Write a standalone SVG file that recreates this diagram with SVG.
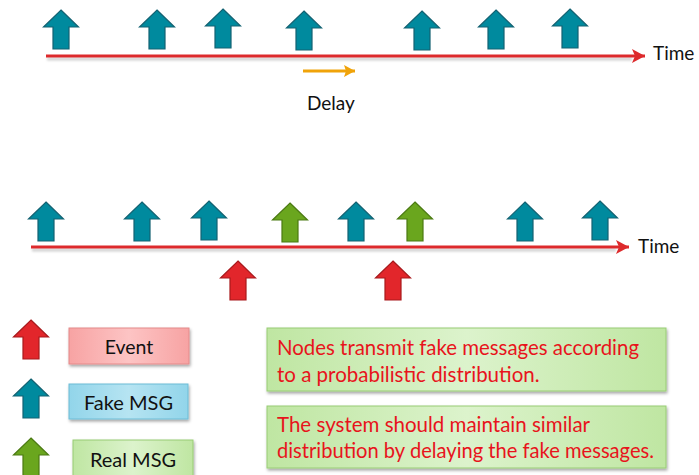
<svg xmlns="http://www.w3.org/2000/svg" xmlns:xlink="http://www.w3.org/1999/xlink" width="699" height="475" viewBox="0 0 699 475">
<defs>
<style>
.t{font-family:Lato,"Open Sans","Liberation Sans",sans-serif;fill:#111}
.rt{font-family:Lato,"Open Sans","Liberation Sans",sans-serif;fill:#e8141c;font-size:20.5px}
.teal{fill:#008a9e;stroke:#136272;stroke-width:1.2}
.red{fill:#e2262b;stroke:#a8191c;stroke-width:1.2}
.green{fill:#6aa61e;stroke:#4b7a12;stroke-width:1.2}
.axis{stroke:#dd2a2c;stroke-width:3;fill:none}
.axsh{stroke:#000;stroke-opacity:0.18;stroke-width:3;fill:none}
</style>
<path id="arr" d="M0,0 L17.5,17 L8,17 L8,39 L-8,39 L-8,17 L-17.5,17 Z"/>
<marker id="ah" markerWidth="14" markerHeight="14" refX="13" refY="7" orient="auto" markerUnits="userSpaceOnUse">
<path d="M0,0 L13,7 L0,14 L3,7 Z" fill="#dd2a2c"/>
</marker>
<marker id="oh" markerWidth="12" markerHeight="12" refX="11" refY="6" orient="auto" markerUnits="userSpaceOnUse">
<path d="M0,0 L11,6 L0,12 L2,6 Z" fill="#f0a30a"/>
</marker>
<filter id="sh" x="-10%" y="-20%" width="125%" height="160%">
<feDropShadow dx="1" dy="2" stdDeviation="1.5" flood-color="#000" flood-opacity="0.35"/>
</filter>
<filter id="blur" filterUnits="userSpaceOnUse" x="0" y="0" width="699" height="475">
<feGaussianBlur stdDeviation="1"/>
</filter>
<linearGradient id="gPink" x1="0" y1="0" x2="1" y2="0">
<stop offset="0" stop-color="#f7a3a3"/><stop offset="0.5" stop-color="#fdc4c4"/><stop offset="1" stop-color="#f7a3a3"/>
</linearGradient>
<linearGradient id="gBlue" x1="0" y1="0" x2="1" y2="0">
<stop offset="0" stop-color="#92d5ea"/><stop offset="0.5" stop-color="#b6e4f2"/><stop offset="1" stop-color="#92d5ea"/>
</linearGradient>
<linearGradient id="gGreen" x1="0" y1="0" x2="1" y2="0">
<stop offset="0" stop-color="#bfe6a2"/><stop offset="0.5" stop-color="#dcf3cc"/><stop offset="1" stop-color="#bfe6a2"/>
</linearGradient>
</defs>

<g id="connectors">
<line class="axsh" x1="47" y1="59" x2="632" y2="59" filter="url(#blur)"/>
<line class="axis" x1="46" y1="56" x2="645" y2="56" marker-end="url(#ah)"/>
<line x1="303" y1="71" x2="355" y2="71" stroke="#f0a30a" stroke-width="3" marker-end="url(#oh)"/>
<line class="axsh" x1="32" y1="250" x2="616" y2="250" filter="url(#blur)"/>
<line class="axis" x1="31" y1="247" x2="629" y2="247" marker-end="url(#ah)"/>
</g>

<g id="top-timeline">
<text class="t" x="653" y="60" font-size="19">Time</text>
<text class="t" x="307" y="110" font-size="19">Delay</text>
</g>
<g id="top-fake-msgs">
<use href="#arr" class="teal" x="61" y="10"/>
<use href="#arr" class="teal" x="157" y="10"/>
<use href="#arr" class="teal" x="223" y="9"/>
<use href="#arr" class="teal" x="304" y="11"/>
<use href="#arr" class="teal" x="422" y="11"/>
<use href="#arr" class="teal" x="496" y="10"/>
<use href="#arr" class="teal" x="570" y="9"/>
</g>

<g id="bottom-timeline">
<text class="t" x="638" y="253" font-size="19">Time</text>
</g>
<g id="bottom-fake-msgs">
<use href="#arr" class="teal" x="46" y="202"/>
<use href="#arr" class="teal" x="142" y="202"/>
<use href="#arr" class="teal" x="209" y="201"/>
<use href="#arr" class="teal" x="356" y="202"/>
<use href="#arr" class="teal" x="525" y="202"/>
<use href="#arr" class="teal" x="600" y="201"/>
</g>
<g id="bottom-real-msgs">
<use href="#arr" class="green" x="290" y="203"/>
<use href="#arr" class="green" x="415" y="202"/>
</g>
<g id="events">
<use href="#arr" class="red" x="238" y="261"/>
<use href="#arr" class="red" x="393" y="261"/>
</g>

<g id="legend-event">
<use href="#arr" class="red" x="31" y="320"/>
<rect x="69" y="328" width="120" height="36" fill="url(#gPink)" stroke="#e48a8a" stroke-width="1" filter="url(#sh)"/>
<text class="t" x="129" y="354" font-size="19.5" text-anchor="middle">Event</text>
</g>
<g id="legend-fake">
<use href="#arr" class="teal" x="31" y="379"/>
<rect x="69" y="384" width="119" height="35" fill="url(#gBlue)" stroke="#6cbcd6" stroke-width="1" filter="url(#sh)"/>
<text class="t" x="128.5" y="410" font-size="20" text-anchor="middle">Fake MSG</text>
</g>
<g id="legend-real">
<use href="#arr" class="green" x="31" y="438"/>
<rect x="73" y="440" width="120" height="40" fill="url(#gGreen)" stroke="#98cc74" stroke-width="1" filter="url(#sh)"/>
<text class="t" x="133" y="467" font-size="20" text-anchor="middle">Real MSG</text>
</g>

<g id="note-1">
<rect x="267" y="328" width="399" height="63" fill="url(#gGreen)" stroke="#98cc74" stroke-width="1" filter="url(#sh)"/>
<text class="rt" x="277" y="355" textLength="362" lengthAdjust="spacingAndGlyphs">Nodes transmit fake messages according</text>
<text class="rt" x="277" y="382">to a probabilistic distribution.</text>
</g>
<g id="note-2">
<rect x="267" y="406" width="399" height="62" fill="url(#gGreen)" stroke="#98cc74" stroke-width="1" filter="url(#sh)"/>
<text class="rt" x="277" y="432">The system should maintain similar</text>
<text class="rt" x="277" y="458" textLength="377" lengthAdjust="spacingAndGlyphs">distribution by delaying the fake messages.</text>
</g>
</svg>
